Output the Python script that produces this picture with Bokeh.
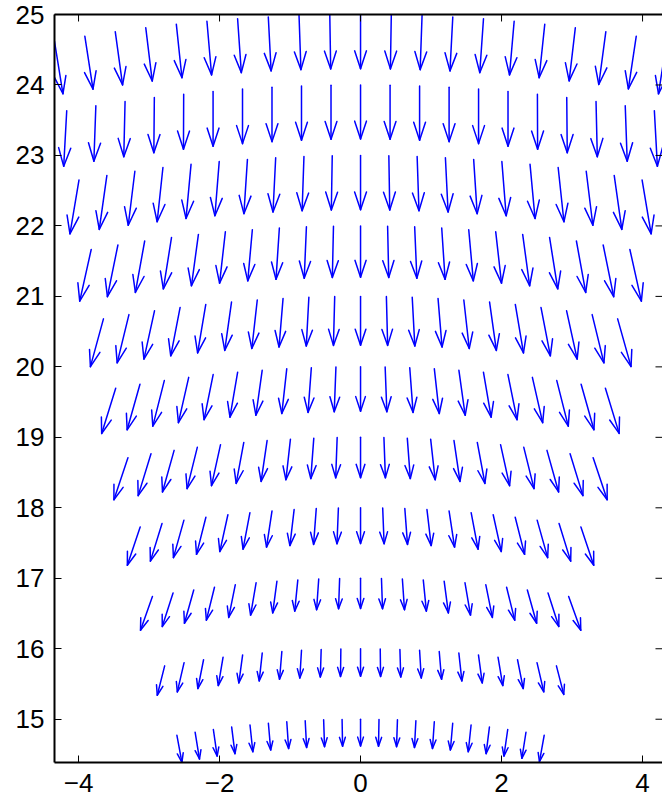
import numpy as np
from bokeh.plotting import figure
from bokeh.models import Range1d, LinearAxis, FixedTicker, ColumnDataSource
from bokeh.embed import file_html
from bokeh.resources import INLINE

# ---- data ----
RADII = [15, 16, 17, 18, 19, 20, 21, 22, 23, 24, 25]
ANGLES_DEG = [-10, -9, -8, -7, -6, -5, -4, -3, -2, -1, 0, 1, 2, 3, 4, 5, 6, 7, 8, 9, 10]

U15 = [0.071, 0.062, 0.054, 0.047, 0.040, 0.033, 0.026, 0.020, 0.013, 0.007, 0.0,
       -0.007, -0.013, -0.020, -0.026, -0.033, -0.040, -0.047, -0.054, -0.058, -0.067]
V15 = [-0.383, -0.380, -0.377, -0.377, -0.379, -0.380, -0.380, -0.380, -0.380, -0.380, -0.379,
       -0.380, -0.380, -0.380, -0.380, -0.380, -0.379, -0.377, -0.377, -0.370, -0.373]

U16 = [-0.105, -0.096, -0.081, -0.068, -0.054, -0.043, -0.033, -0.024, -0.012, -0.005, 0.0,
       0.005, 0.012, 0.024, 0.033, 0.043, 0.054, 0.068, 0.081, 0.096, 0.104]
V16 = [-0.417, -0.416, -0.409, -0.403, -0.397, -0.396, -0.394, -0.393, -0.392, -0.391, -0.390,
       -0.391, -0.392, -0.393, -0.394, -0.396, -0.397, -0.403, -0.409, -0.414, -0.405]

U17 = [-0.169, -0.153, -0.132, -0.115, -0.093, -0.078, -0.060, -0.044, -0.030, -0.015, 0.0,
       0.015, 0.030, 0.044, 0.060, 0.078, 0.093, 0.115, 0.132, 0.153, 0.172]
V17 = [-0.480, -0.476, -0.473, -0.468, -0.463, -0.457, -0.450, -0.443, -0.436, -0.431, -0.429,
       -0.431, -0.436, -0.443, -0.450, -0.457, -0.463, -0.468, -0.473, -0.476, -0.480]

U18 = [-0.182, -0.165, -0.149, -0.133, -0.115, -0.098, -0.078, -0.060, -0.038, -0.020, 0.0,
       0.020, 0.038, 0.060, 0.078, 0.098, 0.115, 0.133, 0.149, 0.165, 0.182]
V18 = [-0.542, -0.535, -0.532, -0.526, -0.522, -0.519, -0.513, -0.511, -0.508, -0.508, -0.508,
       -0.508, -0.508, -0.511, -0.513, -0.519, -0.522, -0.526, -0.532, -0.535, -0.542]

U19 = [-0.199, -0.182, -0.165, -0.145, -0.128, -0.108, -0.085, -0.064, -0.043, -0.021, 0.0,
       0.021, 0.043, 0.064, 0.085, 0.108, 0.128, 0.145, 0.165, 0.182, 0.199]
V19 = [-0.596, -0.593, -0.590, -0.586, -0.582, -0.582, -0.579, -0.576, -0.574, -0.572, -0.572,
       -0.572, -0.574, -0.576, -0.579, -0.582, -0.582, -0.586, -0.590, -0.593, -0.596]

U20 = [-0.199, -0.182, -0.163, -0.146, -0.129, -0.109, -0.089, -0.070, -0.047, -0.024, 0.0,
       0.024, 0.047, 0.070, 0.089, 0.109, 0.129, 0.146, 0.163, 0.182, 0.195]
V20 = [-0.641, -0.647, -0.647, -0.643, -0.640, -0.638, -0.638, -0.635, -0.634, -0.633, -0.630,
       -0.633, -0.634, -0.635, -0.638, -0.638, -0.640, -0.643, -0.647, -0.647, -0.640]

U21 = [-0.185, -0.167, -0.150, -0.133, -0.116, -0.096, -0.077, -0.057, -0.037, -0.018, 0.0,
       0.018, 0.037, 0.057, 0.077, 0.096, 0.116, 0.133, 0.150, 0.167, 0.190]
V21 = [-0.678, -0.684, -0.685, -0.687, -0.687, -0.687, -0.688, -0.689, -0.691, -0.692, -0.694,
       -0.692, -0.691, -0.689, -0.688, -0.687, -0.687, -0.687, -0.685, -0.684, -0.677]

U22 = [-0.163, -0.149, -0.132, -0.116, -0.099, -0.082, -0.065, -0.048, -0.031, -0.016, 0.0,
       0.016, 0.031, 0.048, 0.065, 0.082, 0.099, 0.116, 0.132, 0.149, 0.163]
V22 = [-0.733, -0.733, -0.730, -0.729, -0.729, -0.728, -0.726, -0.728, -0.729, -0.729, -0.729,
       -0.729, -0.729, -0.728, -0.726, -0.728, -0.729, -0.729, -0.730, -0.733, -0.733]

U23 = [-0.128, -0.108, -0.094, -0.082, -0.071, -0.061, -0.050, -0.038, -0.026, -0.013, 0.0,
       0.013, 0.026, 0.038, 0.050, 0.061, 0.071, 0.082, 0.094, 0.108, 0.128]
V23 = [-0.763, -0.766, -0.767, -0.769, -0.769, -0.769, -0.770, -0.770, -0.772, -0.772, -0.772,
       -0.772, -0.772, -0.770, -0.770, -0.769, -0.769, -0.769, -0.767, -0.766, -0.763]

U24 = [-0.043, -0.028, -0.018, -0.007, -0.003, 0.0, 0.0, 0.0, 0.0, 0.0, 0.0,
       0.0, 0.0, 0.0, 0.0, 0.0, 0.003, 0.007, 0.018, 0.028, 0.043]
V24 = [-0.790, -0.787, -0.785, -0.783, -0.780, -0.777, -0.774, -0.771, -0.769, -0.767, -0.766,
       -0.767, -0.769, -0.771, -0.774, -0.777, -0.780, -0.783, -0.785, -0.787, -0.790]

U25 = [0.120, 0.116, 0.104, 0.092, 0.080, 0.066, 0.053, 0.040, 0.027, 0.013, 0.0,
       -0.013, -0.027, -0.040, -0.053, -0.066, -0.080, -0.088, -0.100, -0.112, -0.115]
V25 = [-0.745, -0.752, -0.756, -0.758, -0.760, -0.762, -0.764, -0.766, -0.767, -0.768, -0.770,
       -0.768, -0.767, -0.766, -0.764, -0.762, -0.760, -0.756, -0.750, -0.748, -0.746]

U_ROWS = [U15, U16, U17, U18, U19, U20, U21, U22, U23, U24, U25]
V_ROWS = [V15, V16, V17, V18, V19, V20, V21, V22, V23, V24, V25]

X_TICKS = [-4, -2, 0, 2, 4]
X_TICK_LABELS = ["\u22124", "\u22122", "0", "2", "4"]
Y_TICKS = [15, 16, 17, 18, 19, 20, 21, 22, 23, 24, 25]

X_START, X_END = -4.341, 4.283
Y_START, Y_END = 14.386, 25.0
PX_PER_UNIT = 70.5      # equal aspect (axis equal)
TICK_LEN = 7 / PX_PER_UNIT

# ---- build quiver geometry (MATLAB-style heads) ----
ALPHA = 0.33
BETA = 0.33
xs, ys = [], []
for r, urow, vrow in zip(RADII, U_ROWS, V_ROWS):
    for a, u, v in zip(ANGLES_DEG, urow, vrow):
        th = np.deg2rad(a)
        x0 = r * np.sin(th)
        y0 = r * np.cos(th)
        xs.append([x0, x0 + u])
        ys.append([y0, y0 + v])
        xs.append([x0 + u - ALPHA * (u + BETA * v), x0 + u, x0 + u - ALPHA * (u - BETA * v)])
        ys.append([y0 + v - ALPHA * (v - BETA * u), y0 + v, y0 + v - ALPHA * (v + BETA * u)])

src = ColumnDataSource(dict(xs=xs, ys=ys))

p = figure(width=662, height=807,
           x_range=Range1d(X_START, X_END), y_range=Range1d(Y_START, Y_END),
           output_backend="svg", toolbar_location=None,
           min_border_left=54, min_border_right=0, min_border_top=14, min_border_bottom=45,
           background_fill_color="white", border_fill_color="white",
           outline_line_color=None)
p.grid.visible = False

p.multi_line(xs="xs", ys="ys", source=src, line_color="#0000ff", line_width=1.5,
             line_join="round", line_cap="round")

# inward tick marks on the top and right sides of the box
top_src = ColumnDataSource(dict(x0=X_TICKS, y0=[Y_END] * len(X_TICKS),
                                x1=X_TICKS, y1=[Y_END - TICK_LEN] * len(X_TICKS)))
p.segment(x0="x0", y0="y0", x1="x1", y1="y1", source=top_src, line_color="black", line_width=1)
right_src = ColumnDataSource(dict(x0=[X_END] * len(Y_TICKS), y0=Y_TICKS,
                                  x1=[X_END - TICK_LEN] * len(Y_TICKS), y1=Y_TICKS))
p.segment(x0="x0", y0="y0", x1="x1", y1="y1", source=right_src, line_color="black", line_width=1)

FONT = "Liberation Sans"

def style(ax, ticks):
    ax.ticker = FixedTicker(ticks=ticks)
    ax.axis_line_color = "black"
    ax.axis_line_width = 2
    ax.major_tick_in = 7
    ax.major_tick_out = 0
    ax.minor_tick_in = 0
    ax.minor_tick_out = 0
    ax.major_tick_line_color = "black"
    ax.major_tick_line_width = 1
    ax.major_label_text_font = FONT
    ax.major_label_text_font_size = "26px"
    ax.major_label_text_color = "black"

xa = p.xaxis[0]
style(xa, X_TICKS)
xa.major_label_overrides = {t: s for t, s in zip(X_TICKS, X_TICK_LABELS)}
xa.major_label_standoff = 11

ya = p.yaxis[0]
style(ya, Y_TICKS)
ya.major_label_standoff = 10

# top side of the box: a line only (no ticks, no labels from the axis itself)
top = LinearAxis(ticker=FixedTicker(ticks=[]))
top.axis_line_color = "black"
top.axis_line_width = 2
top.major_tick_in = 0
top.major_tick_out = 0
top.minor_tick_in = 0
top.minor_tick_out = 0
top.major_label_standoff = 0
p.add_layout(top, "above")

open("out.html", "w").write(file_html(p, INLINE))
